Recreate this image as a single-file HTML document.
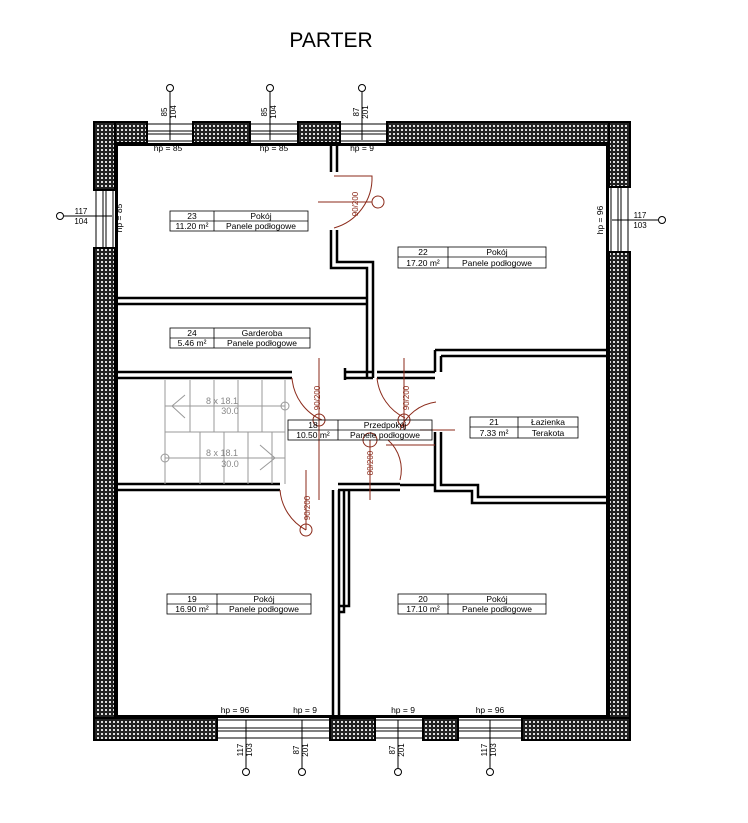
<!DOCTYPE html>
<html><head><meta charset="utf-8"><style>body{margin:0;background:#fff}svg{display:block}text{font-family:"Liberation Sans",sans-serif}</style></head><body>
<svg width="748" height="823" viewBox="0 0 748 823" xmlns="http://www.w3.org/2000/svg">
<defs>
<pattern id="h" width="4" height="4" patternUnits="userSpaceOnUse"><rect width="4" height="4" fill="#222"/><rect x="1" y="1" width="2" height="2" fill="#ddd"/></pattern>
</defs>
<text x="331" y="47" font-size="21" text-anchor="middle">PARTER</text>
<g stroke="#000" stroke-width="2" fill="url(#h)">
<rect x="94" y="122" width="53" height="21"/><rect x="193" y="122" width="57" height="21"/><rect x="298" y="122" width="42" height="21"/><rect x="387" y="122" width="243" height="21"/>
<rect x="94" y="122" width="21" height="68"/><rect x="94" y="248" width="21" height="492"/>
<rect x="609" y="122" width="21" height="65"/><rect x="609" y="252" width="21" height="488"/>
<rect x="94" y="718" width="123" height="22"/><rect x="330" y="718" width="45" height="22"/><rect x="423" y="718" width="35" height="22"/><rect x="522" y="718" width="108" height="22"/>
</g>
<g stroke="#000" stroke-width="1" fill="none">
<rect x="147" y="124" width="46" height="17"/><line x1="147" y1="131" x2="193" y2="131"/><line x1="147" y1="134" x2="193" y2="134"/>
<rect x="250" y="124" width="48" height="17"/><line x1="250" y1="131" x2="298" y2="131"/><line x1="250" y1="134" x2="298" y2="134"/>
<rect x="340" y="124" width="47" height="17"/><line x1="340" y1="131" x2="387" y2="131"/><line x1="340" y1="134" x2="387" y2="134"/>
<rect x="96" y="190" width="17" height="58"/><line x1="103" y1="190" x2="103" y2="248"/><line x1="106" y1="190" x2="106" y2="248"/>
<rect x="611" y="187" width="17" height="65"/><line x1="618" y1="187" x2="618" y2="252"/><line x1="621" y1="187" x2="621" y2="252"/>
<rect x="217" y="720" width="113" height="18"/><line x1="217" y1="728" x2="330" y2="728"/><line x1="217" y1="731" x2="330" y2="731"/>
<rect x="375" y="720" width="48" height="18"/><line x1="375" y1="728" x2="423" y2="728"/><line x1="375" y1="731" x2="423" y2="731"/>
<rect x="458" y="720" width="64" height="18"/><line x1="458" y1="728" x2="522" y2="728"/><line x1="458" y1="731" x2="522" y2="731"/>
</g>
<g fill="#000">
<rect x="115" y="143" width="3" height="575"/><rect x="606" y="143" width="3" height="575"/><rect x="115" y="143" width="494" height="3"/><rect x="115" y="715" width="494" height="3"/>
</g>
<g stroke="#000" stroke-width="2.5" fill="none">
<path d="M331 146V172M331 230V268H367V378M337 146V172M337 230V262H373V378"/>
<path d="M118 298H367M118 304H367"/>
<path d="M118 372H292M118 378H292M345 372H373M345 378H373M345 368V380"/>
<path d="M435 432V491H472V503H606M441 432V485H478V497H606M435 350H606M441 356H606M435 350V372M441 356V372M377 372H435M377 378H435"/>
<path d="M118 484H280M118 490H280M338 484H400M338 490H400M400 485H435"/>
<path d="M333 490V715M339 490V715M344 490V612H339M349 490V606H339"/>
</g>
<g stroke="#999" stroke-width="1" fill="none">
<path d="M165 380V484M165 432H285M285 380V484"/>
<path d="M190 380V432M214 380V432M238 380V432M262 380V432M165 406H285"/>
<path d="M200 432V484M224 432V484M248 432V484M272 432V484M165 458H285"/>
<path d="M185 395L172 406L185 418M260 445L275 458L260 470"/>
<circle cx="285" cy="406" r="4"/><circle cx="165" cy="458" r="4"/>
</g>
<g fill="#888" font-size="9" text-anchor="middle"><text x="222" y="404">8 x 18.1</text><text x="230" y="414">30.0</text><text x="222" y="456">8 x 18.1</text><text x="230" y="467">30.0</text></g>
<g stroke="#8b2a1a" stroke-width="1" fill="none">
<path d="M334 176H372A52 52 0 0 1 334 228"/><circle cx="378" cy="202" r="6"/><line x1="318" y1="202" x2="372" y2="202"/>
<path d="M292 378A50 50 0 0 0 322 420"/><circle cx="319" cy="420" r="6"/><line x1="319" y1="358" x2="319" y2="500"/>
<path d="M377 378A50 50 0 0 0 405 418"/><circle cx="404" cy="420" r="6"/><line x1="404" y1="358" x2="404" y2="430"/>
<path d="M436 402A45 45 0 0 0 400 430"/><circle cx="370" cy="440" r="7"/><line x1="370" y1="440" x2="370" y2="500"/>
<path d="M280 490A50 50 0 0 0 306 530"/><circle cx="306" cy="530" r="6"/><line x1="306" y1="470" x2="306" y2="530"/>
<path d="M386 445H435M400 480A40 40 0 0 0 388 440"/><line x1="420" y1="430" x2="455" y2="430"/>
</g>
<g font-size="8" fill="#8b2a1a" text-anchor="middle"><text x="358" y="204" transform="rotate(-90 358 204)">90/200</text><text x="320" y="398" transform="rotate(-90 320 398)">90/200</text><text x="409" y="398" transform="rotate(-90 409 398)">90/200</text><text x="373" y="463" transform="rotate(-90 373 463)">80/200</text><text x="310" y="508" transform="rotate(-90 310 508)">90/200</text></g>
<g font-size="8.5" stroke="#000" stroke-width="0.8" fill="none">
<rect x="170" y="211" width="138" height="20"/><path d="M170 221H308M214 211V231"/>
<rect x="398" y="247" width="148" height="21"/><path d="M398 257H546M448 247V268"/>
<rect x="170" y="328" width="140" height="20"/><path d="M170 338H310M214 328V348"/>
<rect x="288" y="420" width="144" height="20"/><path d="M288 430H432M338 420V440"/>
<rect x="470" y="417" width="108" height="21"/><path d="M470 427H578M518 417V438"/>
<rect x="167" y="594" width="144" height="20"/><path d="M167 604H311M217 594V614"/>
<rect x="398" y="594" width="148" height="20"/><path d="M398 604H546M448 594V614"/>
</g>
<g font-size="8.5" text-anchor="middle">
<text x="192" y="219">23</text><text x="261" y="219">Pokój</text><text x="192" y="229">11.20 m²</text><text x="261" y="229">Panele podłogowe</text>
<text x="423" y="255">22</text><text x="497" y="255">Pokój</text><text x="423" y="266">17.20 m²</text><text x="497" y="266">Panele podłogowe</text>
<text x="192" y="336">24</text><text x="262" y="336">Garderoba</text><text x="192" y="346">5.46 m²</text><text x="262" y="346">Panele podłogowe</text>
<text x="313" y="428">18</text><text x="385" y="428">Przedpokój</text><text x="313" y="438">10.50 m²</text><text x="385" y="438">Panele podłogowe</text>
<text x="494" y="425">21</text><text x="548" y="425">Łazienka</text><text x="494" y="436">7.33 m²</text><text x="548" y="436">Terakota</text>
<text x="192" y="602">19</text><text x="264" y="602">Pokój</text><text x="192" y="612">16.90 m²</text><text x="264" y="612">Panele podłogowe</text>
<text x="423" y="602">20</text><text x="497" y="602">Pokój</text><text x="423" y="612">17.10 m²</text><text x="497" y="612">Panele podłogowe</text>
<text x="168" y="151">hp = 85</text><text x="274" y="151">hp = 85</text><text x="362" y="151">hp = 9</text>
<text x="235" y="713">hp = 96</text><text x="305" y="713">hp = 9</text><text x="403" y="713">hp = 9</text><text x="490" y="713">hp = 96</text>
<text x="122" y="218" transform="rotate(-90 122 218)">hp = 85</text><text x="603" y="220" transform="rotate(-90 603 220)">hp = 96</text>
</g>
<g stroke="#000" stroke-width="1" fill="#fff">
<path d="M170 92V140M270 92V140M362 92V140M246 720V768M302 720V768M398 720V768M490 720V768M64 216H112M612 220H658"/>
<circle cx="170" cy="88" r="3.5"/><circle cx="270" cy="88" r="3.5"/><circle cx="362" cy="88" r="3.5"/>
<circle cx="246" cy="772" r="3.5"/><circle cx="302" cy="772" r="3.5"/><circle cx="398" cy="772" r="3.5"/><circle cx="490" cy="772" r="3.5"/>
<circle cx="60" cy="216" r="3.5"/><circle cx="662" cy="220" r="3.5"/>
</g>
<g font-size="8" text-anchor="middle">
<text x="167" y="112" transform="rotate(-90 167 112)">85</text><text x="176" y="112" transform="rotate(-90 176 112)">104</text>
<text x="267" y="112" transform="rotate(-90 267 112)">85</text><text x="276" y="112" transform="rotate(-90 276 112)">104</text>
<text x="359" y="112" transform="rotate(-90 359 112)">87</text><text x="368" y="112" transform="rotate(-90 368 112)">201</text>
<text x="243" y="750" transform="rotate(-90 243 750)">117</text><text x="252" y="750" transform="rotate(-90 252 750)">103</text>
<text x="299" y="750" transform="rotate(-90 299 750)">87</text><text x="308" y="750" transform="rotate(-90 308 750)">201</text>
<text x="395" y="750" transform="rotate(-90 395 750)">87</text><text x="404" y="750" transform="rotate(-90 404 750)">201</text>
<text x="487" y="750" transform="rotate(-90 487 750)">117</text><text x="496" y="750" transform="rotate(-90 496 750)">103</text>
<text x="81" y="214">117</text><text x="81" y="224">104</text><text x="640" y="218">117</text><text x="640" y="228">103</text>
</g>
</svg>
</body></html>
